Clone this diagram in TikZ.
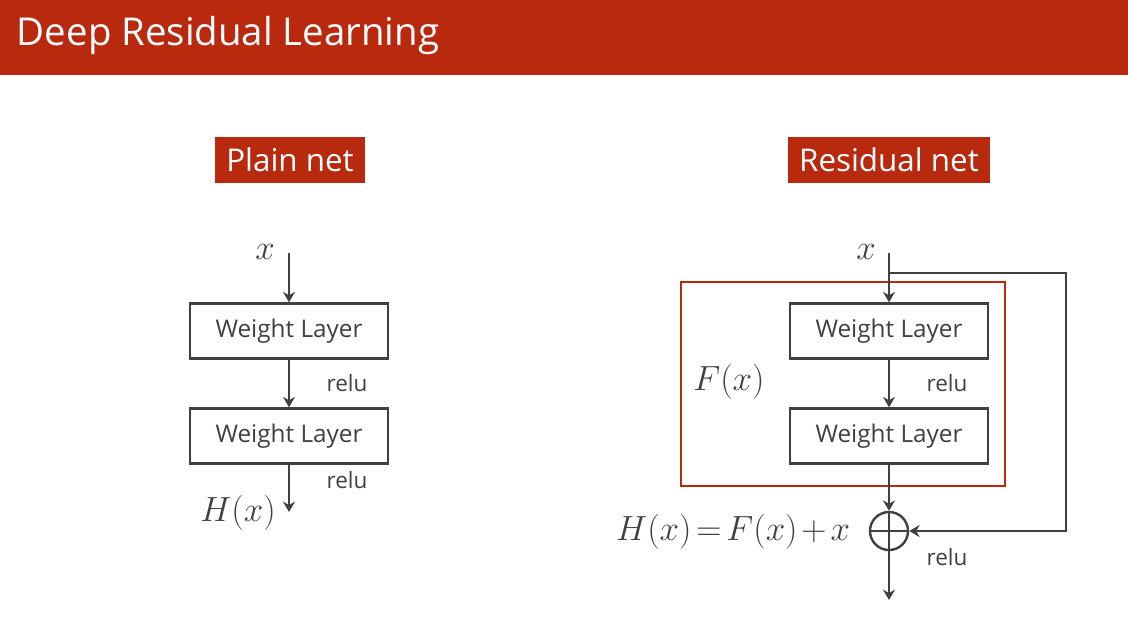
\documentclass[tikz,border=0pt]{standalone}
\usepackage{fontspec}
\setmainfont{Open Sans}
\usetikzlibrary{arrows.meta}
\definecolor{mRed}{HTML}{B8290E}
\definecolor{mDark}{HTML}{404040}
\tikzset{
  wlayer/.style={draw=mDark, line width=1.7pt, minimum width=4.95cm,
                 minimum height=1.375cm, inner sep=0pt, text=mDark,
                 font=\fontsize{17.3}{20}\selectfont},
  tagbox/.style={fill=mRed, text=white, inner sep=0pt, minimum height=1.15cm,
                 font=\fontsize{22.3}{26}\selectfont},
  arr/.style={mDark, line width=1.7pt, -{Stealth[length=2.6mm, width=3mm]}},
  lnk/.style={mDark, line width=1.7pt},
  relu/.style={text=mDark, font=\fontsize{16}{19}\selectfont},
  mlabel/.style={text=mDark, font=\fontsize{24}{28}\selectfont},
}

\begin{document}
\begin{tikzpicture}[x=0.025cm, y=-0.025cm]
    \useasboundingbox (0,0) rectangle (1128,621);
    \fill[mRed] (0,0) rectangle (1128,75);
    \node[anchor=west, text=white, font=\fontsize{27.3}{31}\selectfont] (title) at (12,36) {Deep Residual Learning};
    \node[tagbox, minimum width=3.75cm] (plainlbl) at (290,160) {Plain net};
    \node[tagbox, minimum width=5.05cm] (reslbl)  at (889,160) {Residual net};
    % plain net
    \node[mlabel] (px) at (265,252) {$x$};
    \coordinate (pin) at (289,253);
    \node[wlayer] (pw1) at (289,331) {Weight Layer};
    \node[wlayer] (pw2) at (289,436) {Weight Layer};
    \coordinate (pout) at (289,512);
    \node[mlabel] (ph) at (238,513) {$H(x)$};
    \draw[arr] (pin) -- (pw1);
    \draw[arr] (pw1) -- (pw2);
    \draw[arr] (pw2) -- (pout);
    \node[relu] (prelu1) at (347,383) {relu};
    \node[relu] (prelu2) at (347,480) {relu};
    % residual net
    \node[draw=mRed, line width=1.7pt, minimum width=8.1cm, minimum height=5.1cm] (fbox) at (843,384) {};
    \node[mlabel] (rx) at (866,252) {$x$};
    \coordinate (rin) at (889,253);
    \coordinate (rsplit) at (889,273);
    \coordinate (rcorner) at (1066,273);
    \node[wlayer] (rw1) at (889,331) {Weight Layer};
    \node[wlayer] (rw2) at (889,436) {Weight Layer};
    \node[mlabel] (fx) at (729,382) {$F(x)$};
    \node[draw=mDark, line width=1.7pt, circle, minimum size=0.95cm, inner sep=0pt,
          path picture={\draw[lnk] (path picture bounding box.west) -- (path picture bounding box.east);}] (sum) at (889,531) {};
    \coordinate (rout) at (889,600);
    \node[mlabel, anchor=east] (rh) at (855,532)
      {$\thickmuskip=2.5mu \medmuskip=2mu H(x)=F(x)+x$};
    \draw[arr] (rin) -- (rw1);
    \draw[arr] (rw1) -- (rw2);
    \draw[arr] (rw2) -- (sum);
    \draw[lnk] (sum.north) -- (sum.south);
    \draw[arr] (sum) -- (rout);
    \draw[arr] (rsplit) -- (rcorner) |- (sum);
    \node[relu] (rrelu1) at (947,383) {relu};
    \node[relu] (rrelu2) at (947,557) {relu};
\end{tikzpicture}
\end{document}
